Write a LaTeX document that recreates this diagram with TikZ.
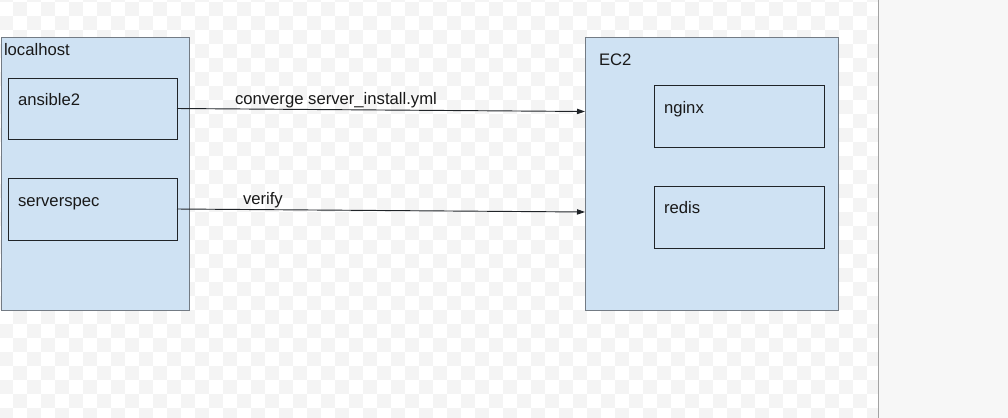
\documentclass[tikz,border=0pt]{standalone}
\usepackage{fontspec}
\setmainfont{Liberation Sans}
\usetikzlibrary{arrows.meta}
\definecolor{boxfill}{HTML}{CFE2F3}
\definecolor{outerline}{HTML}{737B84}
\definecolor{innerline}{HTML}{202428}
\definecolor{chkgray}{HTML}{F4F4F4}
\definecolor{panelgray}{HTML}{F7F7F7}
\definecolor{divline}{HTML}{A3A3A3}

\begin{document}
\begin{tikzpicture}[x=0.75pt,y=-0.75pt,
    every node/.style={inner sep=0pt, outer sep=0pt, font=\fontsize{12.5}{15}\selectfont, text=black!90},
    hostbox/.style={draw=outerline, line width=0.75pt, fill=boxfill, anchor=north west},
    appbox/.style={draw=innerline, line width=0.7pt, anchor=north west},
    lbl/.style={anchor=base west},
    conn/.style={draw=innerline, line width=0.7pt, -{Triangle[length=6pt,width=4pt]}}]
            \useasboundingbox (0,0) rectangle (1008,418);
            \fill[white] (0,0) rectangle (878,418);
            \fill[panelgray] (878,0) rectangle (1008,418);
            \begin{scope}
                \clip (0,0) rectangle (878,418);
                \foreach \i in {0,...,63} {
                    \foreach \j in {-1,...,29} {
                        \pgfmathtruncatemacro\k{mod(\i+\j+2,2)}
                        \ifnum\k=1 \fill[chkgray] (-1+14*\i,2+14*\j) rectangle ++(14,14); \fi
                    }
                }
            \end{scope}
            \draw[divline, line width=1.1pt] (878.5,0) -- (878.5,418);

            \node[hostbox, minimum width=188*0.75pt, minimum height=273*0.75pt] (host) at (1,37) {};
            \node[appbox, minimum width=169*0.75pt, minimum height=61*0.75pt] (ansible) at (8,78) {};
            \node[appbox, minimum width=169*0.75pt, minimum height=62*0.75pt] (spec) at (8,178) {};

            \node[hostbox, minimum width=253*0.75pt, minimum height=273*0.75pt] (ec2) at (585,37) {};
            \node[appbox, minimum width=170*0.75pt, minimum height=62*0.75pt] (nginx) at (654,85) {};
            \node[appbox, minimum width=170*0.75pt, minimum height=62*0.75pt] (redis) at (654,186) {};

            \node[lbl] (hostlbl) at (4,55) {localhost};
            \node[lbl] (ansiblelbl) at (18,105) {ansible2};
            \node[lbl] (speclbl) at (18,206) {serverspec};
            \node[lbl] (ec2lbl) at (599,65) {EC2};
            \node[lbl] (nginxlbl) at (664,113) {nginx};
            \node[lbl] (redislbl) at (664,213) {redis};

            \coordinate (convin) at (585,111.5);
            \coordinate (verin) at (585,212);
            \draw[conn] (ansible.east) -- (convin);
            \draw[conn] (spec.east) -- (verin);
            \node[lbl] (convlbl) at (235,104) {converge server\_install.yml};
            \node[lbl] (verlbl) at (243,204) {verify};
        \end{tikzpicture}
\end{document}
